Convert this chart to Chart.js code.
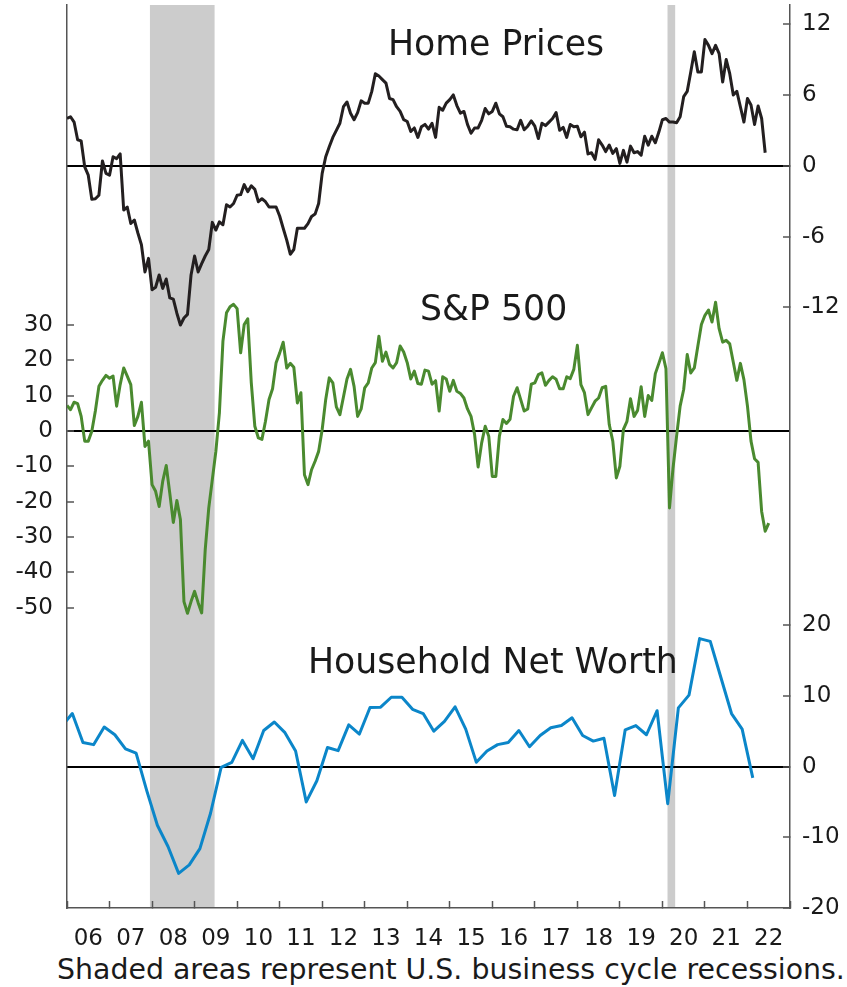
<!DOCTYPE html>
<html>
<head>
<meta charset="utf-8">
<script src="https://cdn.jsdelivr.net/npm/chart.js@4/dist/chart.umd.min.js"></script>
<style>
  html, body { margin: 0; padding: 0; background: #fff; }
  #wrap { position: relative; width: 847px; height: 987px; font-family: "DejaVu Sans", sans-serif; color: #1a1a1a; }
  #chart { position: absolute; left: 0; top: 0; }
  .lbl { position: absolute; white-space: nowrap; line-height: 1; }
  .panel { font-size: 34.7px; }
  #note { font-size: 28.4px; left: 57px; top: 956px; }
</style>
</head>
<body>
<div id="wrap">
  <canvas id="chart" width="847" height="952"></canvas>
  <div class="lbl panel" style="left:388px; top:26px">Home Prices</div>
  <div class="lbl panel" style="left:420px; top:291px">S&amp;P 500</div>
  <div class="lbl panel" style="left:308px; top:644px">Household Net Worth</div>
  <div class="lbl" id="note">Shaded areas represent U.S. business cycle recessions.</div>
</div>
<script>
// Year-over-year % change. Home prices and S&P 500 are monthly from Jan 2006,
// household net worth is quarterly (first point is Q4 2005, clipped by the axis).
const homeStart = 2006;
const homePrices = [
  4.0, 4.15, 3.7, 2.2, 2.1, -0.1, -0.8, -2.85, -2.8, -2.5,
  0.4, -0.65, -0.8, 0.76, 0.6, 1.0, -3.75, -3.5, -4.9, -4.6,
  -5.7, -6.7, -9.0, -7.85, -10.5, -10.3, -9.26, -10.4, -9.6, -11.2,
  -11.3, -12.5, -13.5, -12.9, -12.6, -9.26, -7.65, -9.0, -8.3, -7.65,
  -7.1, -4.8, -5.45, -4.75, -5.0, -3.3, -3.5, -3.2, -2.5, -2.45,
  -1.6, -2.2, -1.7, -2.0, -3.05, -2.8, -3.05, -3.5, -3.5, -3.5,
  -4.26, -5.3, -6.3, -7.5, -7.1, -5.3, -5.3, -5.3, -4.9, -4.3,
  -4.1, -3.2, -0.65, 0.76, 1.6, 2.4, 3.0, 3.6, 5.0, 5.4,
  4.45, 3.9, 4.5, 5.5, 5.3, 5.3, 6.3, 7.8, 7.6, 7.3,
  7.0, 5.7, 5.6, 5.0, 4.6, 3.9, 3.75, 2.9, 3.2, 2.4,
  3.3, 3.5, 3.1, 3.6, 2.4, 4.95, 4.7, 5.3, 5.6, 6.0,
  5.1, 4.45, 4.6, 3.5, 2.75, 3.2, 3.2, 3.85, 4.85, 4.4,
  4.6, 5.3, 4.4, 4.15, 3.35, 3.3, 3.1, 3.05, 3.85, 3.05,
  3.35, 3.8, 3.35, 2.3, 3.6, 3.4, 3.7,
  4.0, 4.5, 3.0, 3.25, 2.4, 3.5, 3.3, 3.35, 2.45, 2.85,
  1.0, 1.1, 0.54, 2.2, 1.75, 1.2, 1.75, 1.05, 1.45, 0.2,
  1.3, 0.3, 1.66, 1.1, 1.2, 0.9, 2.5, 1.75, 2.5, 1.95,
  2.85, 3.9, 4.0, 3.7, 3.7, 3.65, 4.15, 5.85, 6.3, 7.95,
  9.66, 7.95, 7.95, 10.7, 10.2, 9.5, 10.2, 9.5, 7.1, 9.0,
  7.8, 6.0, 6.3, 5.0, 3.7, 5.7, 5.15, 3.5, 5.06, 4.0, 1.1,
];

const spxStart = 2006;
const spx = [
  7.2, 6.0, 8.1, 7.7, 4.1, -2.9, -2.9, -0.1, 5.6, 12.6,
  14.3, 15.7, 14.9, 15.5, 7.0, 13.1, 17.8, 15.5, 13.1, 1.5,
  4.1, 8.1, -4.4, -2.9, -15.2, -17.1, -21.4, -14.3, -9.8, -17.6,
  -25.9, -19.7, -25.1, -48.3, -51.6, -48.3, -45.4, -48.6, -51.5, -33.6,
  -21.8, -13.8, -5.8, 5.1, 25.4, 33.4, 35.1, 35.8, 34.6, 22.1,
  30.1, 31.7, 13.6, 1.3, -2.0, -2.4, 2.7, 8.9, 11.9, 19.3,
  22.0, 25.1, 17.8, 19.1, 18.0, 7.9, 10.8, -12.4, -15.2,
  -11.0, -8.6, -5.8, 0.4, 8.9, 15.0, 13.6, 6.8, 4.6, 9.6,
  14.7, 17.4, 12.6, 4.1, 6.2, 12.2, 13.6, 17.8, 19.3, 26.8,
  19.7, 22.3, 18.8, 17.8, 19.3, 24.0, 22.3, 19.3, 14.7, 16.9,
  13.4, 13.2, 17.2, 16.9, 13.2, 14.2, 5.6, 15.3, 14.7, 11.2,
  14.3, 11.2, 10.6, 9.3, 6.2, 4.1, -1.0, -10.2, -3.4, 1.3,
  -1.5, -12.9, -12.9, -1.5, 3.2, 2.1, 3.3, 9.8, 12.2, 8.9,
  5.6, 6.2, 13.2, 13.6, 15.9, 16.4, 12.9, 14.3,
  15.3, 14.6, 11.9, 11.9, 15.3, 14.8, 17.4, 24.2, 13.1, 10.8,
  4.6, 6.5, 8.4, 9.3, 12.2, 12.6, 1.8, -2.9, -13.3, -10.0,
  0.4, 2.7, 9.1, 4.1, 5.8, 12.5, 4.1, 10.0, 8.6, 16.2,
  19.1, 22.1, 17.6, -21.8, -10.5, -1.5, 7.0, 11.7, 21.6, 16.4,
  17.8, 24.0, 30.1, 32.7, 34.2, 30.8, 36.4, 28.9, 25.1, 25.6,
  24.6, 19.4, 14.3, 19.1, 14.5, 7.0, -2.9, -7.9, -8.9, -22.8,
  -28.4, -26.1,
];

const hnwStart = 2005.875;
const netWorth = [
  5.7, 7.5, 3.4, 3.1, 5.6, 4.5, 2.5, 1.9, -3.4, -8.3,
  -11.3, -15.1, -13.9, -11.6, -6.6, -0.1, 0.6, 3.7, 1.1, 5.1,
  6.3, 4.8, 2.2, -5.0, -2.0, 2.7, 2.25, 5.9, 4.6, 8.35,
  8.4, 9.8, 9.8, 8.1, 7.5, 5.0, 6.4, 8.45, 5.3, 0.6,
  2.2, 3.1, 3.4, 5.1, 2.8, 4.4, 5.5, 5.8, 6.9, 4.4,
  3.6, 4.0, -4.1, 5.2, 5.8, 4.5, 7.9, -5.25, 8.3, 10.1,
  18.1, 17.7, 12.6, 7.5, 5.3, -1.6,
];

// recession start / end as fractional years
const recessions = [[2007.95, 2009.47], [2020.12, 2020.3]];

const yearLabels = ["06", "07", "08", "09", "10", "11", "12", "13", "14",
  "15", "16", "17", "18", "19", "20", "21", "22"];
const spxTicks = [30, 20, 10, 0, -10, -20, -30, -40, -50];
const homeTicks = [12, 6, 0, -6, -12];
const hnwTicks = [20, 10, 0, -10, -20];

// each series gets its own range so the three panels stack in one plot
const spxRange = [-135.0, 120.5];
const homeRange = [-62.9, 13.62];
const hnwRange = [-20, 107.7];

// the right axis carries both home price and net worth ticks
function hnwToHome(v) {
  const f = (v - hnwRange[0]) / (hnwRange[1] - hnwRange[0]);
  return homeRange[0] + f * (homeRange[1] - homeRange[0]);
}
const rightTicks = homeTicks
  .map((v) => ({ value: v, label: String(v) }))
  .concat(hnwTicks.map((v) => ({ value: hnwToHome(v), label: String(v) })));

const tickFont = { family: "DejaVu Sans", size: 23 };
const axisGray = "#555";

function noPadding(s) {
  s.paddingTop = 0;
  s.paddingBottom = 0;
  s.paddingLeft = 0;
  s.paddingRight = 0;
}

const shading = {
  id: "shading",
  beforeDraw(chart) {
    const { ctx, chartArea, scales } = chart;
    ctx.save();
    ctx.fillStyle = "#cccccc";
    recessions.forEach(([a, b]) => {
      const x0 = scales.x.getPixelForValue(a);
      const x1 = scales.x.getPixelForValue(b);
      ctx.fillRect(x0, chartArea.top, x1 - x0, chartArea.bottom - chartArea.top);
    });
    ctx.restore();
  },
};

new Chart(document.getElementById("chart"), {
  type: "line",
  data: {
    datasets: [
      {
        label: "Home Prices",
        data: homePrices.map((v, i) => ({ x: homeStart + i / 12, y: v })),
        yAxisID: "yR",
        borderColor: "#231f20",
      },
      {
        label: "S&P 500",
        data: spx.map((v, i) => ({ x: spxStart + i / 12, y: v })),
        yAxisID: "yL",
        borderColor: "#4a8a2f",
      },
      {
        label: "Household Net Worth",
        data: netWorth.map((v, i) => ({ x: hnwStart + i / 4, y: v })),
        yAxisID: "yN",
        borderColor: "#0b86c9",
      },
    ],
  },
  options: {
    responsive: false,
    animation: false,
    layout: { padding: { top: 5, left: 0, right: 0, bottom: 0 } },
    plugins: { legend: { display: false }, tooltip: { enabled: false } },
    elements: {
      point: { radius: 0 },
      line: { tension: 0, borderWidth: 3, borderJoinStyle: "round" },
    },
    scales: {
      x: {
        type: "linear",
        position: "bottom",
        min: 2006,
        max: 2023,
        afterBuildTicks: (s) => {
          s.ticks = yearLabels.map((l, i) => ({ value: 2006.5 + i }));
        },
        afterFit: (s) => {
          s.height = 44;
          noPadding(s);
        },
        ticks: {
          autoSkip: false,
          maxRotation: 0,
          font: tickFont,
          color: "#1a1a1a",
          padding: 24,
          callback: (v, i) => yearLabels[i],
        },
        grid: {
          offset: true,
          drawOnChartArea: false,
          tickLength: -7,
          tickColor: axisGray,
          tickWidth: 1.5,
        },
        border: { color: axisGray, width: 1.5 },
      },
      yL: {
        type: "linear",
        position: "left",
        min: spxRange[0],
        max: spxRange[1],
        afterBuildTicks: (s) => {
          s.ticks = spxTicks.map((v) => ({ value: v }));
        },
        afterFit: (s) => {
          s.width = 67;
          noPadding(s);
        },
        ticks: {
          autoSkip: false,
          font: tickFont,
          color: "#1a1a1a",
          padding: 21,
          callback: (v) => String(v),
        },
        grid: {
          color: (c) => (c.tick && c.tick.value === 0 ? "#000" : "rgba(0,0,0,0)"),
          lineWidth: 2,
          tickLength: -7,
          tickColor: axisGray,
          tickWidth: 1.5,
        },
        border: { color: axisGray, width: 1.5 },
      },
      yR: {
        type: "linear",
        position: "right",
        min: homeRange[0],
        max: homeRange[1],
        afterBuildTicks: (s) => {
          s.ticks = rightTicks.map((t) => ({ value: t.value }));
        },
        afterFit: (s) => {
          s.width = 57;
          noPadding(s);
        },
        ticks: {
          autoSkip: false,
          font: tickFont,
          color: "#1a1a1a",
          padding: 19,
          callback: (v, i) => rightTicks[i].label,
        },
        grid: {
          color: (c) =>
            rightTicks[c.index] && rightTicks[c.index].label === "0" ? "#000" : "rgba(0,0,0,0)",
          lineWidth: 2,
          tickLength: -7,
          tickColor: axisGray,
          tickWidth: 1.5,
        },
        border: { color: axisGray, width: 1.5 },
      },
      yN: {
        type: "linear",
        position: "right",
        display: false,
        min: hnwRange[0],
        max: hnwRange[1],
      },
    },
  },
  plugins: [shading],
});
</script>
</body>
</html>
